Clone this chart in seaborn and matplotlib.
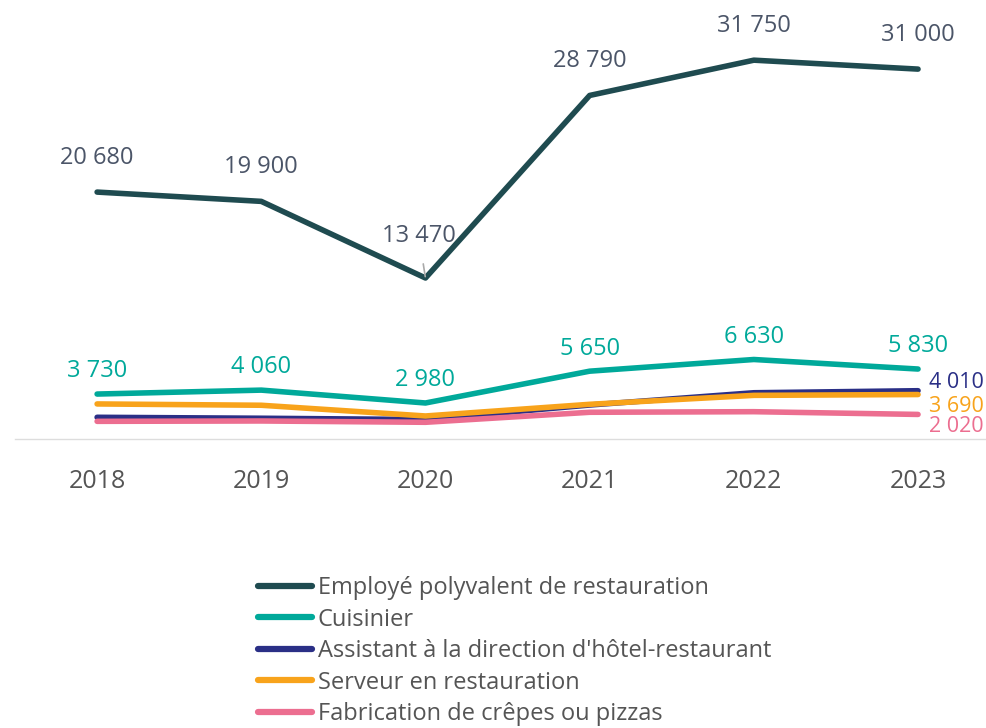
import matplotlib
matplotlib.use("Agg")
import matplotlib.pyplot as plt
import seaborn as sns
import pandas as pd

years = [2018, 2019, 2020, 2021, 2022, 2023]
jobs = [
    "Employé polyvalent de restauration",
    "Cuisinier",
    "Assistant à la direction d'hôtel-restaurant",
    "Serveur en restauration",
    "Fabrication de crêpes ou pizzas",
]
employe = [20680, 19900, 13470, 28790, 31750, 31000]
cuisinier = [3730, 4060, 2980, 5650, 6630, 5830]
assistant = [1780, 1700, 1590, 2810, 3840, 4010]
serveur = [2900, 2790, 1890, 2870, 3620, 3690]
fabrication = [1440, 1470, 1360, 2200, 2250, 2020]
colors = ["#1f4b50", "#00a99a", "#2a2f86", "#f8a31b", "#ec6e90"]

series = [employe, cuisinier, assistant, serveur, fabrication]
df = pd.DataFrame({
    "year": [y for _ in jobs for y in years],
    "job": [j for j in jobs for _ in years],
    "value": [v for s in series for v in s],
})

sns.set_theme(style="white")
plt.rcParams["font.family"] = ["Open Sans", "DejaVu Sans"]

fig = plt.figure(figsize=(9.87, 7.28), dpi=100)
ax = fig.add_axes([0.0152, 1 - 438.5 / 728, 1 - 0.0152, 438.5 / 728])

sns.lineplot(data=df, x="year", y="value", hue="job", palette=colors,
             hue_order=jobs, linewidth=4, ax=ax, legend=False,
             solid_capstyle="round")

ax.set_xlim(2017.5, 2023.42)
ax.set_ylim(0, 36800)
ax.set_xticks(years)
ax.set_xticklabels([str(y) for y in years], fontsize=18, color="#555555")
ax.tick_params(axis="x", length=0, pad=22)
ax.set_yticks([])
ax.set_xlabel("")
ax.set_ylabel("")
for side in ["top", "left", "right"]:
    ax.spines[side].set_visible(False)
ax.spines["bottom"].set_color("#dddddd")
ax.spines["bottom"].set_linewidth(1)


def fmt(v):
    return f"{v:,}".replace(",", " ")


# labels of the top line
for x, v in zip(years, employe):
    if x == 2020:
        ax.annotate(fmt(v), xy=(x, v), xytext=(x - 0.04, v + 3500),
                    ha="center", va="center", fontsize=17, color="#4b5568",
                    arrowprops=dict(arrowstyle="-", color="#aaaaaa", lw=1.2,
                                    shrinkA=9, shrinkB=1))
    else:
        ax.text(x, v + 2900, fmt(v), ha="center", va="center",
                fontsize=17, color="#4b5568")

for x, v in zip(years, cuisinier):
    ax.text(x, v + 1900, fmt(v), ha="center", va="center",
            fontsize=17, color=colors[1])

# right-hand labels
xr = 984 / 987
ylab = lambda px: 1 - px / 728
fig.text(xr, ylab(383), fmt(assistant[-1]), ha="right", va="center",
         fontsize=15.5, color=colors[2])
fig.text(xr, ylab(406), fmt(serveur[-1]), ha="right", va="center",
         fontsize=15.5, color=colors[3])
fig.text(xr, ylab(426), fmt(fabrication[-1]), ha="right", va="center",
         fontsize=15.5, color=colors[4])

handles = [plt.Line2D([], [], color=c, lw=4.5, solid_capstyle="round") for c in colors]
fig.legend(handles, jobs, loc="upper left", bbox_to_anchor=(0.261, 1 - 576 / 728),
           frameon=False, fontsize=17, handlelength=2.3, handletextpad=0.25,
           labelspacing=0.32, borderaxespad=0, borderpad=0,
           labelcolor="#555555")

fig.savefig("out.png", dpi=100)
